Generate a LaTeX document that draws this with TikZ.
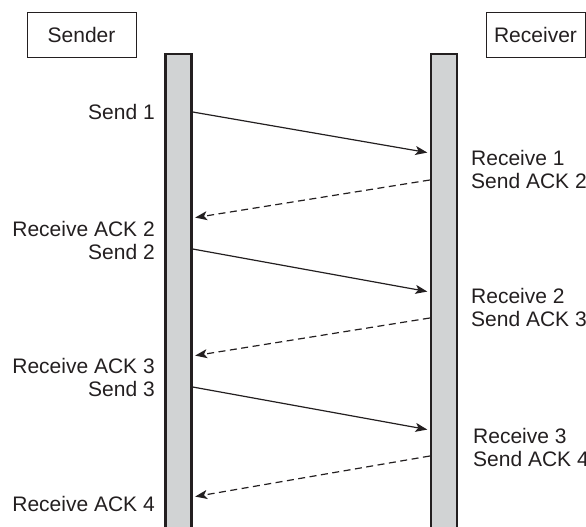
\documentclass[tikz,border=0pt]{standalone}
\usepackage{fontspec}
\setmainfont{Liberation Sans}
\usetikzlibrary{positioning,arrows.meta}
\definecolor{ink}{RGB}{35,31,32}
\definecolor{lgray}{RGB}{209,211,212}

\begin{document}
\begin{tikzpicture}[x=1pt,y=-1pt,>={Stealth[length=12pt,width=9pt,inset=3pt]},
        font=\fontsize{21}{23}\selectfont,text=ink,
        party/.style={draw=ink,line width=0.9pt,minimum width=109pt,minimum height=45pt,inner sep=0pt},
        bar/.style={draw=ink,fill=lgray,line width=2.4pt,minimum width=26pt,minimum height=480pt,inner sep=0pt},
        lleft/.style={anchor=east,align=right,inner sep=0pt},
        lright/.style={anchor=west,align=left,inner sep=0pt},
        msg/.style={->,draw=ink,line width=1.2pt,shorten >=2.5pt},
        ack/.style={msg,dash pattern=on 7pt off 4.5pt}]
        \useasboundingbox (0,0) rectangle (586,527);
        \clip (0,0) rectangle (586,527);
        \node[party](sender) at (81.5,34.5){Sender};
        \node[party,minimum width=99pt](receiver) at (535.5,34.5){Receiver};
        \node[bar,anchor=north](sbar) at (178.5,53){};
        \node[bar,anchor=north](rbar) at (444,53){};
        \node[lleft](snd1) at (155,112){Send 1};
        \node[lright](rcv1) at (471,169.5){Receive 1\\Send ACK 2};
        \node[lleft](snd2) at (155,240.5){Receive ACK 2\\Send 2};
        \node[lright](rcv2) at (471,307.5){Receive 2\\Send ACK 3};
        \node[lleft](snd3) at (155,377.5){Receive ACK 3\\Send 3};
        \node[lright](rcv3) at (473,447.5){Receive 3\\Send ACK 4};
        \node[lleft](snd4) at (155,504){Receive ACK 4};
        \foreach \i/\a/\b in {1/112/153,2/249/292,3/387/430}
          {\coordinate (out\i) at (sbar.east |- 0,\a);
           \coordinate (in\i) at (rbar.west |- 0,\b);
           \draw[msg](out\i)--(in\i);}
        \foreach \i/\a/\b in {1/180/218,2/318/356,3/456/497}
          {\coordinate (aout\i) at (rbar.west |- 0,\a);
           \coordinate (ain\i) at (sbar.east |- 0,\b);
           \draw[ack](aout\i)--(ain\i);}
      \end{tikzpicture}
\end{document}
